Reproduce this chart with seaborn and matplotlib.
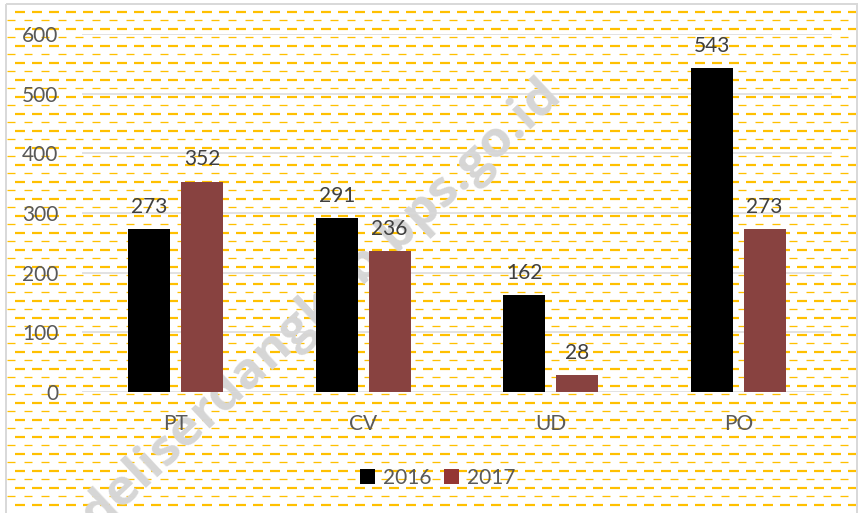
import matplotlib
matplotlib.use("Agg")
import matplotlib.pyplot as plt
from matplotlib.patches import Patch, Rectangle
import numpy as np
import pandas as pd
import seaborn as sns

# data
categories = ["PT", "CV", "UD", "PO"]
years = ["2016", "2017"]
values_2016 = [273, 291, 162, 543]
values_2017 = [352, 236, 28, 273]
bar_colors = ["#000000", "#943634"]

df = pd.DataFrame({
    "kategori": categories * 2,
    "tahun": [years[0]] * 4 + [years[1]] * 4,
    "jumlah": values_2016 + values_2017,
})

sns.set_style("white")
plt.rcParams["font.family"] = ["Lato", "DejaVu Sans"]
plt.rcParams["lines.scale_dashes"] = False

W, H = 861, 513
fig = plt.figure(figsize=(W / 100, H / 100), dpi=100)
fig.patch.set_facecolor("white")

# background: excel-like dashed horizontal pattern inside a thin frame
bg = fig.add_axes([0, 0, 1, 1], zorder=-1)
bg.set_xlim(0, W)
bg.set_ylim(H, 0)
bg.axis("off")
px = 0.72  # points per pixel at 100 dpi
frame_l, frame_r, frame_t = 6, 857, 4
row = 0
for y in np.arange(11.7, H, 8.5):
    if row % 2 == 0:
        bg.plot([15, frame_r - 1], [y, y], color="#FFC000", lw=2.2 * px,
                dashes=(10 * px, 7 * px), dash_capstyle="butt")
    else:
        bg.plot([7, frame_r - 1], [y, y], color="#FFC000", lw=1.3 * px,
                dashes=(8 * px, 9 * px), dash_capstyle="butt")
    row += 1
bg.add_patch(Rectangle((frame_l, frame_t), frame_r - frame_l, H + 10,
                       fill=False, edgecolor="#D9D9D9", lw=2 * px))

# watermark (sits over the pattern, under the bars)
bg.text(322, 305, "deliserdangkab.bps.go.id", rotation=43,
        rotation_mode="anchor", ha="center", va="center", fontsize=37,
        fontweight="bold", color="#D6D6D6", zorder=5,
        family=["Open Sans", "DejaVu Sans"], clip_on=False)

# main plot
ax = fig.add_axes([82 / W, (H - 392) / H, 750 / W, 358 / H])
ax.patch.set_alpha(0)
sns.barplot(data=df, x="kategori", y="jumlah", hue="tahun", palette=bar_colors,
            width=0.563, gap=0.208, linewidth=0, legend=False, ax=ax, zorder=3)
ax.set_ylim(0, 600)
ax.set_xlim(-0.5, 3.5)
ax.set_yticks(range(0, 601, 100))
ax.yaxis.grid(True, color="#D9D9D9", lw=1.5 * px, zorder=0)
ax.set_axisbelow(True)
sns.despine(ax=ax, left=True, bottom=True)
ax.set_xlabel("")
ax.set_ylabel("")
ax.tick_params(axis="y", length=0, pad=17, labelsize=15, labelcolor="#595959")
ax.tick_params(axis="x", length=0, pad=16, labelsize=15, labelcolor="#595959")

for cont in ax.containers:
    ax.bar_label(cont, fmt="%d", padding=9, fontsize=15, color="#404040")

handles = [Patch(facecolor=c, edgecolor="none") for c in bar_colors]
fig.legend(handles, years, loc="center", bbox_to_anchor=(438 / W, 1 - 478 / H),
           ncol=2, frameon=False, fontsize=15, labelcolor="#595959",
           handlelength=0.7, handleheight=0.7, handletextpad=0.4, columnspacing=0.6)

fig.savefig("out.png", dpi=100)
